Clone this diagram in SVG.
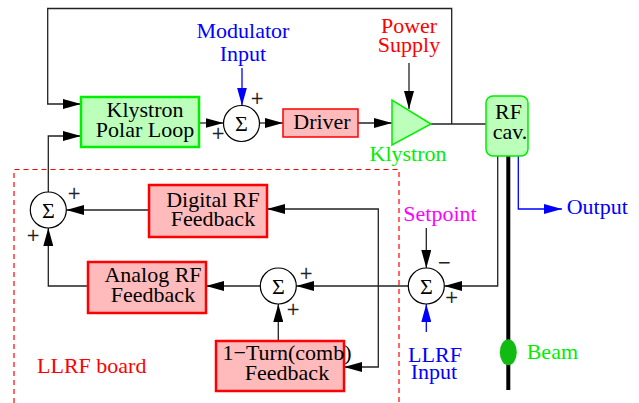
<svg xmlns="http://www.w3.org/2000/svg" width="639" height="403" viewBox="0 0 639 403">
<defs>
<marker id="ah" viewBox="0 0 18 10" refX="18" refY="5" markerWidth="18" markerHeight="10" markerUnits="userSpaceOnUse" orient="auto-start-reverse"><path d="M0,0 L18,5 L0,10 z" fill="#000"/></marker>
<marker id="ahb" viewBox="0 0 18 10" refX="18" refY="5" markerWidth="18" markerHeight="10" markerUnits="userSpaceOnUse" orient="auto-start-reverse"><path d="M0,0 L18,5 L0,10 z" fill="#0000ff"/></marker>
</defs>
<style>
text{font-family:"Liberation Serif","Times New Roman",serif;font-size:22px;fill:#000}
.m{text-anchor:middle}
.g{fill:#bbffbb;stroke:#00ee00;stroke-width:2.5}
.p{fill:#ffbbbb;stroke:#ff0000;stroke-width:2.5}
.s{fill:#fff;stroke:#000;stroke-width:1.2}
.c{fill:none;stroke:#222;stroke-width:1.3}
.cb{fill:none;stroke:#0000ff;stroke-width:1.3}
text.pl{font-family:"DejaVu Sans",sans-serif;font-size:17px;text-anchor:middle;fill:#222}
text.blue{fill:#0000ff}text.red{fill:#ff0000}text.grn{fill:#00ee00}text.mag{fill:#ff00ff}
</style>
<rect width="639" height="403" fill="#fff"/>
<path d="M14,403 L14,169.5 L399,169.5 L399,403" fill="none" stroke="#ff0000" stroke-width="1.2" stroke-dasharray="5,4"/>
<text x="37" y="373" class="red">LLRF board</text>
<g id="connectors">
<polyline class="c" points="451.7,124 451.7,8.5 47.7,8.5 47.7,104 81,104" marker-end="url(#ah)"/>
<line class="c" x1="431" y1="124" x2="486" y2="124"/>
<line class="c" x1="199" y1="123" x2="223.5" y2="123" marker-end="url(#ah)"/>
<line class="c" x1="259.5" y1="123" x2="283" y2="123" marker-end="url(#ah)"/>
<line class="c" x1="358" y1="123" x2="392" y2="123" marker-end="url(#ah)"/>
<line class="c" x1="409" y1="63" x2="409" y2="109" marker-end="url(#ah)"/>
<line class="cb" x1="242" y1="68" x2="242" y2="105.5" marker-end="url(#ahb)"/>
<polyline class="c" points="48.3,192 48.3,136 81,136" marker-end="url(#ah)"/>
<line class="c" x1="149" y1="210" x2="66.3" y2="210" marker-end="url(#ah)"/>
<polyline class="c" points="88,286 48.3,286 48.3,228" marker-end="url(#ah)"/>
<line class="c" x1="260.3" y1="286" x2="206" y2="286" marker-end="url(#ah)"/>
<line class="c" x1="278.3" y1="341" x2="278.3" y2="304" marker-end="url(#ah)"/>
<line class="c" x1="408.3" y1="286" x2="296.3" y2="286" marker-end="url(#ah)"/>
<polyline class="c" points="267,209 378.3,209 378.3,367 344,367" marker-start="url(#ah)" marker-end="url(#ah)"/>
<line class="c" x1="426.3" y1="228" x2="426.3" y2="268" marker-end="url(#ah)"/>
<polyline class="c" points="497.7,156 497.7,286 444.3,286" marker-end="url(#ah)"/>
<line class="cb" x1="426.3" y1="332" x2="426.3" y2="304" marker-end="url(#ahb)"/>
<polyline class="cb" points="518.3,156 518.3,209 562,209" marker-end="url(#ahb)"/>
<line x1="508.3" y1="156" x2="508.3" y2="390" stroke="#000" stroke-width="4"/>
</g>
<g id="polar"><rect class="g" x="81" y="97" width="118" height="50"/><text x="145" y="117" class="m">Klystron</text><text x="145" y="137" class="m">Polar Loop</text></g>
<g id="sum1"><circle class="s" cx="241.5" cy="123.5" r="18"/><text x="241.5" y="131" class="m">Σ</text><text x="257" y="104" class="pl">+</text><text x="218" y="139" class="pl">+</text></g>
<g id="modin"><text x="243" y="38" class="m blue">Modulator</text><text x="243" y="61" class="m blue">Input</text></g>
<g id="driver"><rect x="283" y="109" width="75" height="28" fill="#ffbbbb" stroke="#ff0000" stroke-width="1.5"/><text x="322" y="129" class="m">Driver</text></g>
<g id="power"><text x="409" y="33" class="m red">Power</text><text x="409" y="52" class="m red">Supply</text></g>
<g id="klystron"><polygon points="392,100 392,145 431,124" fill="#bbffbb" stroke="#00ee00" stroke-width="1.5"/><text x="408" y="161" class="m grn">Klystron</text></g>
<g id="rfcav"><rect x="486" y="96" width="42" height="60" rx="7" fill="#bbffbb" stroke="#00ee00" stroke-width="1.5"/><text x="508.5" y="119" class="m">RF</text><text x="510" y="139" class="m">cav.</text></g>
<g id="sumL"><circle class="s" cx="48.3" cy="210" r="18"/><text x="48.3" y="217.5" class="m">Σ</text><text x="74" y="199" class="pl">+</text><text x="33" y="241" class="pl">+</text></g>
<g id="digital"><rect class="p" x="149" y="185" width="118" height="52"/><text x="213" y="206.5" class="m">Digital RF</text><text x="213" y="225.5" class="m">Feedback</text></g>
<g id="analog"><rect class="p" x="88" y="262" width="118" height="51"/><text x="153" y="281.5" class="m">Analog RF</text><text x="153" y="301.5" class="m">Feedback</text></g>
<g id="sumM"><circle class="s" cx="278.3" cy="286" r="18"/><text x="278.3" y="293.5" class="m">Σ</text><text x="306" y="279" class="pl">+</text><text x="293" y="315" class="pl">+</text></g>
<g id="turn"><rect class="p" x="216" y="341" width="128" height="50"/><text x="287" y="360" class="m">1−Turn(comb)</text><text x="287" y="380" class="m">Feedback</text></g>
<g id="sumR"><circle class="s" cx="426.3" cy="286" r="18"/><text x="426.3" y="293.5" class="m">Σ</text><text x="444" y="268" class="pl">−</text><text x="451.7" y="303" class="pl">+</text></g>
<g id="setpoint"><text x="440" y="221" class="m mag">Setpoint</text></g>
<g id="llrfin"><text x="435" y="362" class="m blue">LLRF</text><text x="434" y="379" class="m blue">Input</text></g>
<g id="output"><text x="566.7" y="214" class="blue">Output</text></g>
<g id="beam"><ellipse cx="508.3" cy="352.3" rx="8.5" ry="13" fill="#11bb11"/><text x="526.7" y="359" class="grn">Beam</text></g>
</svg>
